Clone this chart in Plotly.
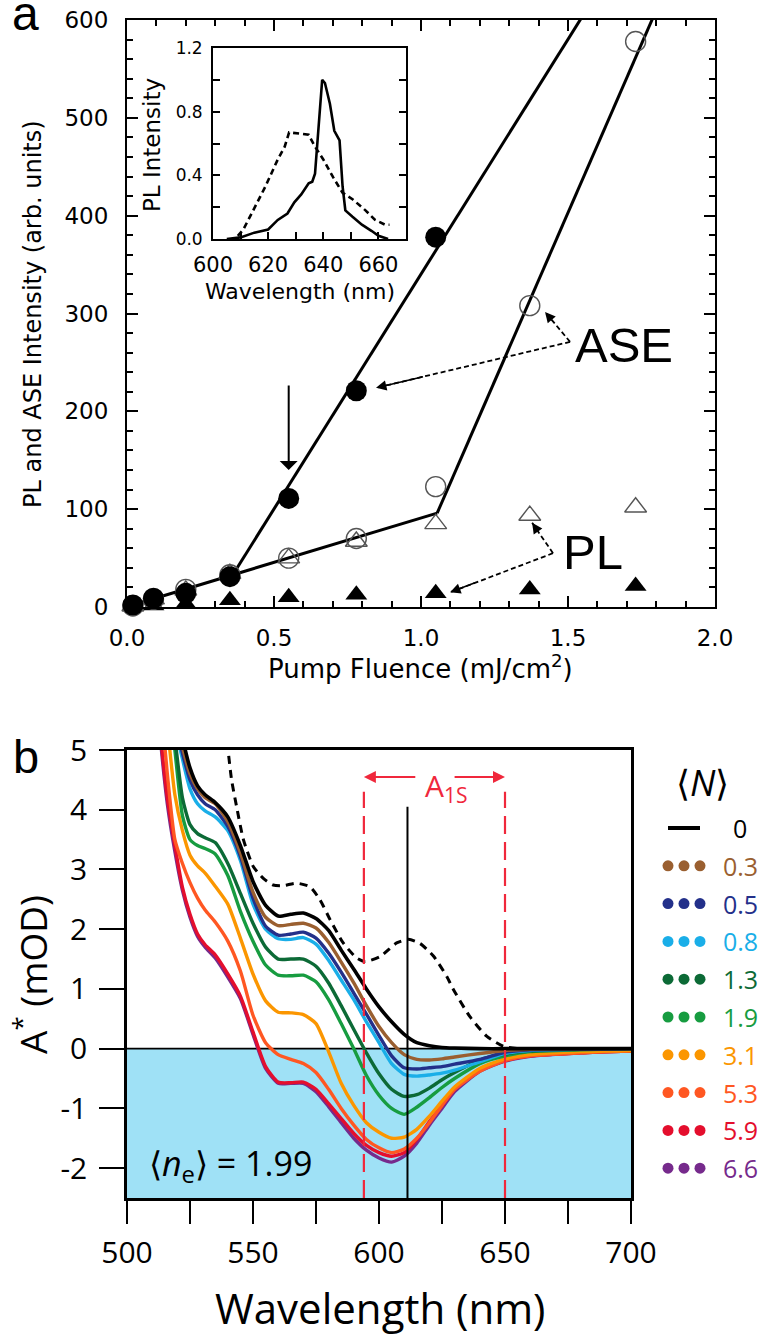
import plotly.graph_objects as go

W, H = 766, 1336
def fx(x): return x / W
def fy(y): return 1 - y / H

# ---------------- Panel a data ----------------
fluence = [0.02, 0.09, 0.20, 0.35, 0.55, 0.78, 1.05, 1.37, 1.73]
ase_closed = [2, 9, 14, 31, 111, 221, 378]          # filled circles (first 7 fluences)
ase_open = [1, 8, 18, 33, 50, 70, 123, 308, 578]     # open circles
pl_open = [1, 8, 17, 34, 50, 67, 85, 93.5, 102]      # open triangles
pl_closed = [0.5, 1.5, 3, 7, 10, 12.5, 14, 18, 21.5] # filled triangles

fit_pl_x = [0.02, 1.055]
fit_pl_y = [2, 96]
fit_ase1_x = [0.36, 1.562]
fit_ase1_y = [33, 610]
fit_ase2_x = [1.055, 1.80]
fit_ase2_y = [96, 610]

threshold_x = 0.55
threshold_arrow_y = [228, 140]

ase_junction = (1.507, 271)
ase_targets = [(1.422, 301.6), (0.847, 224)]
pl_junction = (1.449, 55)
pl_targets = [(1.378, 86), (1.099, 15)]

# inset spectra
ase_wl = [605, 610, 615, 620, 623.5, 627, 629.5, 632, 634.7, 636, 637, 638.2, 639.6,
          640.6, 642.4, 644, 645.9, 647, 648, 650.6, 654, 657.6, 660, 663.5]
ase_int = [0.0, 0.01, 0.04, 0.06, 0.12, 0.16, 0.23, 0.28, 0.35, 0.36, 0.41, 0.67, 1.0,
           0.98, 0.85, 0.68, 0.62, 0.33, 0.18, 0.14, 0.09, 0.05, 0.02, 0.0]
pl_wl = [609, 611, 614, 619, 623.5, 626, 627.6, 630, 632, 634.7, 637, 640, 643.5,
         647, 650.6, 655.3, 658.8, 662.4, 664]
pl_int = [0.02, 0.06, 0.16, 0.33, 0.5, 0.58, 0.67, 0.665, 0.66, 0.655, 0.58, 0.5, 0.39,
          0.29, 0.25, 0.18, 0.12, 0.09, 0.09]

# ---------------- Panel b data ----------------
wl = [510, 513, 516, 519, 522, 525, 528, 531, 535, 540, 545, 550, 555, 560, 565, 570,
      575, 580, 585, 590, 595, 600, 605, 610, 615, 620, 625, 630, 640, 650, 660, 680, 700]
N_labels = ["0", "0.3", "0.5", "0.8", "1.3", "1.9", "3.1", "5.3", "5.9", "6.6"]
colors = ["#000000", "#9a5f30", "#23308a", "#1aaee8", "#0c6a36", "#179c40",
          "#fb9600", "#ff5722", "#e40e2d", "#762a8c"]
A_N0 = [8.2, 7.4, 6.6, 5.8, 5.2, 4.7, 4.4, 4.25, 4.12, 3.88, 3.4, 2.8, 2.4, 2.22, 2.25, 2.27,
        2.18, 1.98, 1.65, 1.33, 1.0, 0.7, 0.45, 0.24, 0.1, 0.05, 0.02, 0.01, 0, 0, 0, 0, 0]
A_N03 = [8.0, 7.2, 6.4, 5.6, 5.05, 4.6, 4.35, 4.2, 4.1, 3.8, 3.28, 2.62, 2.2, 2.06, 2.08, 2.1,
         2.02, 1.78, 1.45, 1.1, 0.72, 0.37, 0.1, -0.1, -0.18, -0.19, -0.17, -0.14, -0.08, -0.03, -0.01, 0, 0]
A_N05 = [7.9, 7.1, 6.3, 5.5, 4.95, 4.5, 4.25, 4.1, 4.0, 3.72, 3.22, 2.52, 2.05, 1.9, 1.92, 1.95,
         1.85, 1.6, 1.28, 0.93, 0.58, 0.22, -0.12, -0.32, -0.34, -0.32, -0.3, -0.26, -0.18, -0.06, -0.02, -0.01, 0]
A_N08 = [7.8, 7.0, 6.2, 5.4, 4.85, 4.35, 4.1, 3.98, 3.88, 3.65, 3.15, 2.42, 2.0, 1.84, 1.83, 1.86,
         1.75, 1.48, 1.15, 0.82, 0.45, 0.1, -0.25, -0.43, -0.46, -0.44, -0.41, -0.36, -0.22, -0.08, -0.03, -0.01, 0]
A_N13 = [8.2, 7.2, 6.2, 5.2, 4.2, 3.75, 3.6, 3.53, 3.45, 3.1, 2.6, 2.1, 1.7, 1.5, 1.5, 1.5,
         1.38, 1.1, 0.72, 0.32, -0.07, -0.42, -0.68, -0.8, -0.77, -0.66, -0.52, -0.4, -0.19, -0.09, -0.04, -0.01, 0]
A_N19 = [8.0, 7.0, 6.2, 5.0, 3.9, 3.5, 3.4, 3.35, 3.26, 2.9, 2.3, 1.8, 1.4, 1.23, 1.22, 1.23,
         1.12, 0.82, 0.42, 0.0, -0.45, -0.78, -1.0, -1.1, -0.98, -0.82, -0.65, -0.5, -0.25, -0.12, -0.05, -0.02, 0]
A_N31 = [7.5, 6.5, 5.4, 4.25, 3.65, 3.24, 3.06, 2.94, 2.72, 2.42, 1.85, 1.25, 0.8, 0.61, 0.6, 0.57,
         0.42, -0.05, -0.58, -0.95, -1.24, -1.4, -1.5, -1.48, -1.35, -1.13, -0.88, -0.64, -0.33, -0.17, -0.1, -0.05, -0.03]
A_N53 = [7.3, 6.0, 4.6, 3.5, 3.1, 2.78, 2.52, 2.32, 2.12, 1.8, 1.3, 0.56, 0.1, -0.1, -0.18, -0.25,
         -0.4, -0.68, -1.0, -1.28, -1.52, -1.66, -1.74, -1.68, -1.5, -1.24, -0.95, -0.68, -0.38, -0.2, -0.12, -0.07, -0.04]
A_N59 = [7.0, 5.4, 4.2, 3.4, 2.7, 2.25, 1.92, 1.74, 1.57, 1.25, 0.88, 0.28, -0.3, -0.56, -0.57, -0.56,
         -0.68, -0.92, -1.17, -1.42, -1.62, -1.74, -1.8, -1.74, -1.52, -1.22, -0.95, -0.68, -0.36, -0.2, -0.12, -0.07, -0.04]
A_N66 = [6.9, 5.3, 4.1, 3.3, 2.65, 2.2, 1.88, 1.7, 1.52, 1.2, 0.84, 0.24, -0.33, -0.58, -0.58, -0.58,
         -0.72, -0.97, -1.24, -1.5, -1.7, -1.83, -1.9, -1.8, -1.58, -1.28, -1.0, -0.72, -0.38, -0.21, -0.13, -0.07, -0.04]
spectra = [A_N0, A_N03, A_N05, A_N08, A_N13, A_N19, A_N31, A_N53, A_N59, A_N66]

abs_wl = [538.5, 540.1, 541.5, 543.5, 546.2, 550.1, 554.1, 558, 562, 567.3, 572.6, 576.6, 580.6,
          585.8, 591.1, 594.4, 600.4, 607, 611.7, 616.3, 621.6, 626.9, 629.4, 636, 642.7, 649.3, 655]
abs_val = [5.6, 5.0, 4.5, 4.05, 3.5, 3.05, 2.85, 2.74, 2.73, 2.77, 2.71, 2.49, 2.16,
           1.77, 1.52, 1.46, 1.54, 1.77, 1.83, 1.76, 1.55, 1.21, 1.0, 0.54, 0.21, 0.04, 0.0]

peak_wl = 611.3
peak_line_top = 4.05
a1s_edges = [594, 650]
a1s_line_top = 4.3
a1s_arrow_y = 4.55
a1s_arrow_tails = [615, 629.4]
ne_text = "⟨<i>n</i><sub>e</sub>⟩ = 1.99"

fig = go.Figure()

# ---- panel a: fit lines
for xs, ys in [(fit_pl_x, fit_pl_y), (fit_ase1_x, fit_ase1_y), (fit_ase2_x, fit_ase2_y)]:
    fig.add_trace(go.Scatter(x=xs, y=ys, mode='lines', line=dict(color='black', width=3),
                             xaxis='x', yaxis='y', hoverinfo='skip'))

# dashed pointer lines
for junc, targets in [(ase_junction, ase_targets), (pl_junction, pl_targets)]:
    for t in targets:
        fig.add_trace(go.Scatter(x=[junc[0], t[0]], y=[junc[1], t[1]], mode='lines',
                                 line=dict(color='black', width=1.8, dash='5px,3px'),
                                 xaxis='x', yaxis='y', hoverinfo='skip'))

# markers
fig.add_trace(go.Scatter(x=fluence, y=pl_closed, mode='markers', cliponaxis=False,
                         marker=dict(symbol='triangle-up', size=19, color='black'), xaxis='x', yaxis='y'))
fig.add_trace(go.Scatter(x=fluence, y=pl_open, mode='markers', cliponaxis=False,
                         marker=dict(symbol='triangle-up-open', size=19, color='#555555', line=dict(width=1.4)),
                         xaxis='x', yaxis='y'))
fig.add_trace(go.Scatter(x=fluence, y=ase_open, mode='markers', cliponaxis=False,
                         marker=dict(symbol='circle-open', size=20, color='#555555', line=dict(width=1.4)),
                         xaxis='x', yaxis='y'))
fig.add_trace(go.Scatter(x=fluence[:len(ase_closed)], y=ase_closed, mode='markers', cliponaxis=False,
                         marker=dict(symbol='circle', size=21, color='black'), xaxis='x', yaxis='y'))

# ---- inset
fig.add_trace(go.Scatter(x=pl_wl, y=pl_int, mode='lines', line=dict(color='black', width=2.6, dash='6px,4px'),
                         xaxis='x2', yaxis='y2', hoverinfo='skip'))
fig.add_trace(go.Scatter(x=ase_wl, y=ase_int, mode='lines', line=dict(color='black', width=2.6),
                         xaxis='x2', yaxis='y2', hoverinfo='skip'))

# ---- panel b
for ys, c in list(zip(spectra, colors))[::-1]:
    fig.add_trace(go.Scatter(x=wl, y=ys, mode='lines', line=dict(color=c, width=3.4 if c != '#000000' else 3.6,
                                                                 shape='spline', smoothing=0.6),
                             xaxis='x3', yaxis='y3', hoverinfo='skip'))
fig.add_trace(go.Scatter(x=abs_wl, y=abs_val, mode='lines',
                         line=dict(color='black', width=3, dash='8px,6px', shape='spline', smoothing=0.6),
                         xaxis='x3', yaxis='y3', hoverinfo='skip'))
fig.add_trace(go.Scatter(x=[peak_wl, peak_wl], y=[-2.5, peak_line_top], mode='lines',
                         line=dict(color='black', width=2), xaxis='x3', yaxis='y3', hoverinfo='skip'))
for e in a1s_edges:
    fig.add_trace(go.Scatter(x=[e, e], y=[-2.5, a1s_line_top], mode='lines',
                             line=dict(color='#f0283c', width=2.2, dash='18px,8px'),
                             xaxis='x3', yaxis='y3', hoverinfo='skip'))

# ---- legend (panel b) on hidden axes
for i, (lab, c) in enumerate(zip(N_labels, colors)):
    if i == 0:
        fig.add_trace(go.Scatter(x=[32, 64], y=[i, i], mode='lines', line=dict(color=c, width=4),
                                 xaxis='x4', yaxis='y4', hoverinfo='skip'))
    else:
        fig.add_trace(go.Scatter(x=[32, 48, 64], y=[i, i, i], mode='markers',
                                 marker=dict(color=c, size=11), xaxis='x4', yaxis='y4', hoverinfo='skip'))

annotations = []
def txt(x, y, text, size, family, color='black', xref='paper', yref='paper', **kw):
    d = dict(x=x, y=y, xref=xref, yref=yref, text=text, showarrow=False,
             xanchor=kw.pop('xanchor', 'center'), yanchor=kw.pop('yanchor', 'middle'),
             font=dict(family=family, size=size, color=color))
    d.update(kw)
    annotations.append(d)

# legend labels
for i, (lab, c) in enumerate(zip(N_labels, colors)):
    txt(104, i, lab, 25, 'Open Sans', c, xref='x4', yref='y4')
txt(fx(702), fy(782), '⟨<i>N</i>⟩', 36, 'Open Sans')

# panel labels
txt(fx(25), fy(13), 'a', 48, 'Liberation Sans')
txt(fx(26), fy(757), 'b', 47, 'Liberation Sans')

# panel a titles
txt(fx(33), fy(314), 'PL and ASE Intensity (arb. units)', 24, 'DejaVu Sans', textangle=-90)
txt(fx(420), fy(667), 'Pump Fluence (mJ/cm<sup>2</sup>)', 26, 'DejaVu Sans')
# inset titles
txt(fx(300), fy(291), 'Wavelength (nm)', 22, 'DejaVu Sans')
txt(fx(152), fy(145), 'PL Intensity', 23, 'DejaVu Sans', textangle=-90)
# ASE / PL labels
txt(1.69, 268, 'ASE', 49, 'Liberation Sans', xref='x', yref='y')
txt(1.585, 56, 'PL', 49, 'Liberation Sans', xref='x', yref='y')

# arrow heads of dashed pointers
for junc, targets in [(ase_junction, ase_targets), (pl_junction, pl_targets)]:
    for t in targets:
        tx = t[0] + 0.25 * (junc[0] - t[0])
        ty = t[1] + 0.25 * (junc[1] - t[1])
        annotations.append(dict(x=t[0], y=t[1], ax=tx, ay=ty, xref='x', yref='y', axref='x', ayref='y',
                                text='', showarrow=True, arrowhead=2, arrowsize=1.3, arrowwidth=1.6,
                                arrowcolor='black', standoff=0))
# threshold arrow
annotations.append(dict(x=threshold_x, y=threshold_arrow_y[1], ax=threshold_x, ay=threshold_arrow_y[0],
                        xref='x', yref='y', axref='x', ayref='y', text='', showarrow=True,
                        arrowhead=1, arrowsize=1.5, arrowwidth=2, arrowcolor='black'))

# panel b texts
txt(fx(30), fy(975), 'A<sup>*</sup> (mOD)', 37, 'Open Sans', textangle=-90)
txt(fx(380), fy(1307), 'Wavelength (nm)', 42, 'Open Sans')
txt(508, -1.94, ne_text, 34, 'Open Sans', xref='x3', yref='y3', xanchor='left')
txt(626.6, 4.38, 'A<sub>1S</sub>', 30, 'Open Sans', '#f0283c', xref='x3', yref='y3')
for head, tail in zip(a1s_edges, a1s_arrow_tails):
    annotations.append(dict(x=head, y=a1s_arrow_y, ax=tail, ay=a1s_arrow_y, xref='x3', yref='y3',
                            axref='x3', ayref='y3', text='', showarrow=True, arrowhead=2,
                            arrowsize=1.2, arrowwidth=2, arrowcolor='#f0283c', standoff=0))

shapes = [
    dict(type='rect', xref='x3', yref='y3', x0=500, x1=700, y0=-2.5, y1=0,
         fillcolor='#9fe1f6', line=dict(width=0), layer='below'),
    dict(type='line', xref='x3', yref='y3', x0=500, x1=700, y0=0, y1=0,
         line=dict(color='black', width=1.8), layer='below'),
]

tickfont_a = dict(family='DejaVu Sans', size=23, color='black')
common_a = dict(showline=True, linecolor='black', linewidth=2, showgrid=False, zeroline=False,
                ticks='inside', tickcolor='black', tickwidth=2, ticklen=11, mirror='allticks',
                automargin=False)

fig.update_layout(
    template='none',
    width=W, height=H, margin=dict(l=0, r=0, t=0, b=0, autoexpand=False),
    paper_bgcolor='white', plot_bgcolor='white', showlegend=False,
    font=dict(family='DejaVu Sans', color='black'),
    xaxis=dict(domain=[fx(127), fx(715)], anchor='y', range=[0, 2], dtick=0.5, tick0=0,
               tickformat='.1f', tickfont=tickfont_a, ticklabelstandoff=9,
               minor=dict(dtick=0.1, ticklen=6, tickwidth=1.6, ticks='inside', tickcolor='black'),
               **common_a),
    yaxis=dict(domain=[fy(607), fy(20)], anchor='x', range=[0, 600], dtick=100, tick0=0,
               tickfont=tickfont_a, ticklabelstandoff=12,
               minor=dict(dtick=20, ticklen=6, tickwidth=1.6, ticks='inside', tickcolor='black'),
               **common_a),
    xaxis2=dict(domain=[fx(213), fx(406)], anchor='y2', range=[600, 670], dtick=20, tick0=600,
                tickfont=dict(family='DejaVu Sans', size=21, color='black'), ticklabelstandoff=6,
                showline=True, linecolor='black', linewidth=1.8, mirror=True, showgrid=False, zeroline=False,
                ticks='inside', ticklen=7, tickwidth=1.6, tickcolor='black', automargin=False,
                minor=dict(dtick=10, ticklen=7, tickwidth=1.6, ticks='inside', tickcolor='black')),
    yaxis2=dict(domain=[fy(239), fy(48)], anchor='x2', range=[0, 1.2], dtick=0.4, tick0=0,
                tickformat='.1f', tickfont=dict(family='DejaVu Sans', size=17, color='black'), ticklabelstandoff=5,
                showline=True, linecolor='black', linewidth=1.8, mirror='ticks', showgrid=False, zeroline=False,
                ticks='inside', ticklen=7, tickwidth=1.6, tickcolor='black', automargin=False,
                minor=dict(dtick=0.2, ticklen=7, tickwidth=1.6, ticks='inside', tickcolor='black')),
    xaxis3=dict(domain=[fx(127), fx(631)], anchor='y3', range=[500, 700], dtick=50, tick0=500,
                tickfont=dict(family='Open Sans', size=30, color='black'), ticklabelstandoff=3,
                showline=True, linecolor='black', linewidth=2.5, mirror=True, showgrid=False, zeroline=False,
                ticks='outside', ticklen=23, tickwidth=2.2, tickcolor='black', automargin=False,
                minor=dict(dtick=25, ticklen=23, tickwidth=2.2, ticks='outside', tickcolor='black')),
    yaxis3=dict(domain=[fy(1198), fy(750)], anchor='x3', range=[-2.5, 5],
                tickvals=[-2, -1, 0, 1, 2, 3, 4, 5], ticktext=['-2', '-1', '0', '1', '2', '3', '4', '5'],
                tickfont=dict(family='Open Sans', size=30, color='black'), ticklabelstandoff=6,
                showline=True, linecolor='black', linewidth=2.5, mirror=True, showgrid=False, zeroline=False,
                ticks='outside', ticklen=25, tickwidth=2.2, tickcolor='black', automargin=False),
    xaxis4=dict(domain=[fx(636), fx(766)], anchor='y4', range=[0, 130], visible=False, fixedrange=True),
    yaxis4=dict(domain=[fy(1190), fy(810)], anchor='x4', range=[(1190 - 828) / 37.8, -(828 - 810) / 37.8],
                visible=False, fixedrange=True),
    annotations=annotations,
    shapes=shapes,
)

fig.write_html('out.html', config={'displayModeBar': False},
               post_script="document.body.style.margin='0';document.body.style.overflow='hidden';")
